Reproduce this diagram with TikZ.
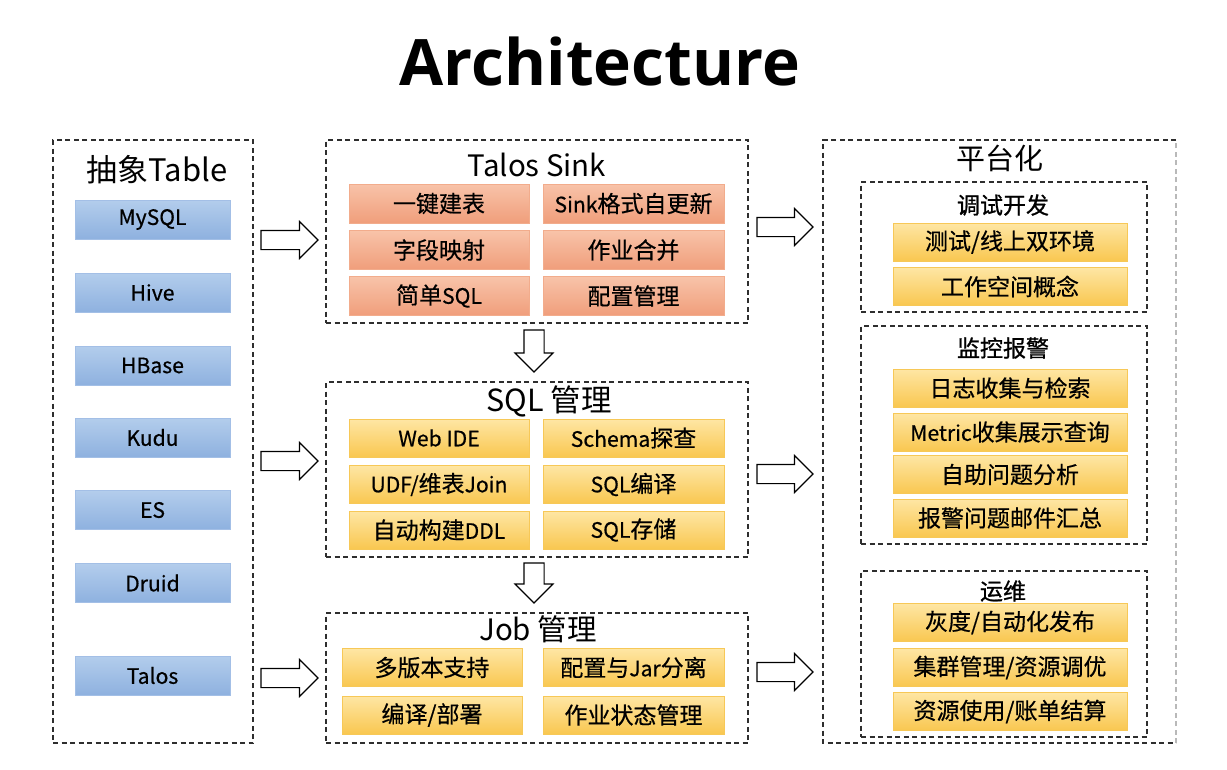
\documentclass[tikz,border=0pt]{standalone}
\usepackage{fontspec}
\setmainfont{Noto Sans CJK SC}
\newfontfamily\cellfont{Noto Sans CJK SC}[FakeBold=0.5]
\newfontfamily\cellen{Noto Sans CJK SC}[FakeBold=0.5,Scale=0.92]
\newfontfamily\subfont{Noto Sans CJK SC}[FakeBold=0.9]
\newfontfamily\titlefont{Open Sans}
\newcommand\en[1]{{\cellen #1}}
\usetikzlibrary{shapes.arrows}
\definecolor{dashc}{HTML}{2E2E2E}
\definecolor{blueB}{HTML}{A3BFE6}
\definecolor{blueT}{HTML}{B3CDEC}
\definecolor{blueD}{HTML}{8EB1DF}
\definecolor{salB}{HTML}{F2AC8C}
\definecolor{salT}{HTML}{F8C3A9}
\definecolor{salD}{HTML}{F09E7B}
\definecolor{yelB}{HTML}{F7C857}
\definecolor{yelT}{HTML}{FEE6A4}
\definecolor{yelD}{HTML}{F9C750}
\tikzset{
  dbox/.style={draw=dashc, dash pattern=on 5pt off 3.5pt, line width=1.4pt, rectangle, inner sep=0pt, outer sep=0pt},
  cell/.style={rectangle, inner sep=0pt, outer sep=0pt, line width=0.8pt, text=black, font=\cellfont\fontsize{23}{26}\selectfont},
  bluecell/.style={cell, draw=blueB, top color=blueT, bottom color=blueD, minimum width=155pt, minimum height=39pt, font=\cellen\fontsize{23}{26}\selectfont},
  salcell/.style={cell, draw=salB, top color=salT, bottom color=salD, minimum height=39pt},
  yelcell/.style={cell, draw=yelB, top color=yelT, bottom color=yelD, minimum height=38pt},
  ttl/.style={inner sep=0pt, text=black},
  subttl/.style={ttl, font=\subfont\fontsize{23}{26}\selectfont},
  barrow/.style={single arrow, draw=black, fill=white, line width=1.1pt, single arrow head extend=9pt, inner sep=9pt, outer sep=0pt, single arrow tip angle=90, anchor=tail},
}
\begin{document}
\begin{tikzpicture}[x=1pt,y=-1pt]
\useasboundingbox[fill=white] (0,0) rectangle (1227,769);
% title
\node[ttl, anchor=base, font=\titlefont\bfseries\fontsize{64}{70}\selectfont] (title) at (600,85) {Architecture};

% left column
\node[dbox, minimum width=200pt, minimum height=603pt] (L) at (153,441.5) {};
\node[ttl, font=\fontsize{31}{34}\selectfont] (Lt) at (157,170) {抽象Table};
\node[bluecell] (b1) at (152.5,219.5) {MySQL};
\node[bluecell] (b2) at (152.5,292.5) {Hive};
\node[bluecell] (b3) at (152.5,365.5) {HBase};
\node[bluecell] (b4) at (152.5,437.5) {Kudu};
\node[bluecell] (b5) at (152.5,510) {ES};
\node[bluecell] (b6) at (152.5,583) {Druid};
\node[bluecell] (b7) at (152.5,675.5) {Talos};

% Talos Sink
\node[dbox, minimum width=422pt, minimum height=183pt] (TS) at (537,231.5) {};
\node[ttl, font=\fontsize{29.5}{32}\selectfont] (TSt) at (537,165) {Talos Sink};
\node[salcell, minimum width=180pt] (s1) at (439,203.5) {一键建表};
\node[salcell, minimum width=181pt] (s2) at (633.5,203.5) {\en{Sink}格式自更新};
\node[salcell, minimum width=180pt] (s3) at (439,250) {字段映射};
\node[salcell, minimum width=181pt] (s4) at (633.5,250) {作业合并};
\node[salcell, minimum width=180pt] (s5) at (439,296) {简单\en{SQL}};
\node[salcell, minimum width=181pt] (s6) at (633.5,296) {配置管理};

% SQL 管理
\node[dbox, minimum width=422pt, minimum height=175pt] (SQ) at (537,469.5) {};
\node[ttl, font=\fontsize{30.5}{33}\selectfont] (SQt) at (549,401) {SQL 管理};
\node[yelcell, minimum width=180pt] (q1) at (439,438) {\en{Web IDE}};
\node[yelcell, minimum width=181pt] (q2) at (633.5,438) {\en{Schema}探查};
\node[yelcell, minimum width=180pt] (q3) at (439,484.5) {\en{UDF/}维表\en{Join}};
\node[yelcell, minimum width=181pt] (q4) at (633.5,484.5) {\en{SQL}编译};
\node[yelcell, minimum width=180pt] (q5) at (439,530) {自动构建\en{DDL}};
\node[yelcell, minimum width=181pt] (q6) at (633.5,530) {\en{SQL}存储};

% Job 管理
\node[dbox, minimum width=422pt, minimum height=130pt] (JB) at (537,678) {};
\node[ttl, font=\fontsize{29.5}{32}\selectfont] (JBt) at (538,629) {Job 管理};
\node[yelcell, minimum width=180pt] (j1) at (432,667.5) {多版本支持};
\node[yelcell, minimum width=181pt] (j2) at (633.5,667.5) {配置与\en{Jar}分离};
\node[yelcell, minimum width=180pt] (j3) at (432,715) {编译/部署};
\node[yelcell, minimum width=181pt] (j4) at (633.5,715) {作业状态管理};

% right column
\node[rectangle, minimum width=353pt, minimum height=603pt, inner sep=0pt, outer sep=0pt] (R) at (999.5,441.5) {};
\draw[dbox] (R.north east) -- (R.north west) -- (R.south west) -- (R.south east);
\draw[dbox, draw=gray!55] (R.south east) -- (R.north east);
\node[ttl, font=\fontsize{29}{32}\selectfont] (Rt) at (1000,158) {平台化};

\node[dbox, minimum width=286pt, minimum height=130pt] (D1) at (1004,247) {};
\node[subttl] (D1t) at (1003,205) {调试开发};
\node[yelcell, minimum width=234pt] (r1) at (1010,242) {测试/线上双环境};
\node[yelcell, minimum width=234pt] (r2) at (1010,286.5) {工作空间概念};

\node[dbox, minimum width=286pt, minimum height=218pt] (D2) at (1004,435) {};
\node[subttl] (D2t) at (1003,348) {监控报警};
\node[yelcell, minimum width=234pt] (r3) at (1010,388) {日志收集与检索};
\node[yelcell, minimum width=234pt] (r4) at (1010,432) {\en{Metric}收集展示查询};
\node[yelcell, minimum width=234pt] (r5) at (1010,474.5) {自助问题分析};
\node[yelcell, minimum width=234pt] (r6) at (1010,518) {报警问题邮件汇总};

\node[dbox, minimum width=286pt, minimum height=166pt] (D3) at (1004,654) {};
\node[subttl] (D3t) at (1003,591) {运维};
\node[yelcell, minimum width=234pt] (r7) at (1010,622.5) {灰度/自动化发布};
\node[yelcell, minimum width=234pt] (r8) at (1010,667.5) {集群管理/资源调优};
\node[yelcell, minimum width=234pt] (r9) at (1010,711.5) {资源使用/账单结算};

% block arrows
\node[barrow, minimum height=57pt] (a1) at (261,240) {};
\node[barrow, minimum height=57pt] (a2) at (261,461) {};
\node[barrow, minimum height=57pt] (a3) at (261,678) {};
\node[barrow, minimum height=56pt] (a4) at (757,227) {};
\node[barrow, minimum height=56pt] (a5) at (757,474) {};
\node[barrow, minimum height=56pt] (a6) at (757,672) {};
\node[barrow, minimum height=42pt, inner sep=9.5pt, shape border rotate=270] (a7) at (534,330) {};
\node[barrow, minimum height=40pt, inner sep=9.5pt, shape border rotate=270] (a8) at (534,563) {};
\end{tikzpicture}
\end{document}
